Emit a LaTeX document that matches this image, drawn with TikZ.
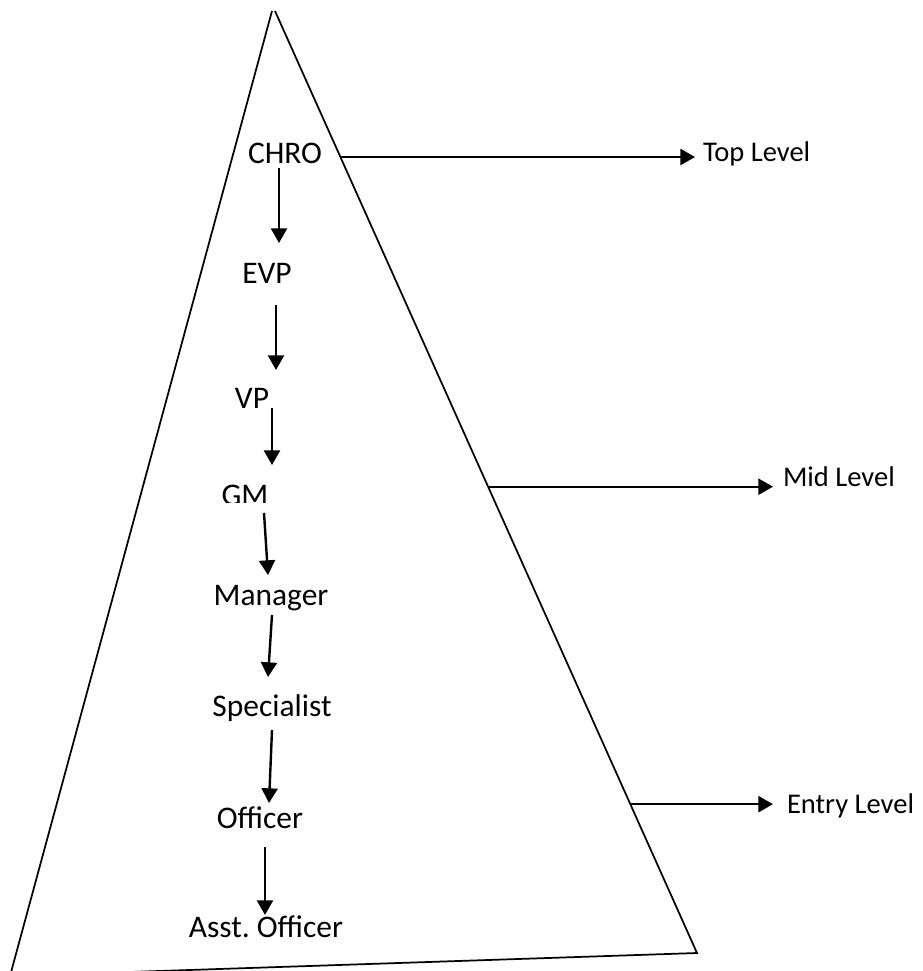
\documentclass[tikz,border=0pt]{standalone}
\usepackage{fontspec}
\setmainfont{Carlito}
\usetikzlibrary{arrows.meta}

\begin{document}
\begin{tikzpicture}[x=0.75pt,y=-0.75pt,
		every node/.style={inner sep=0pt,outer sep=0pt},
		post/.style={font=\fontsize{23.6}{28}\selectfont,anchor=base},
		tier/.style={font=\fontsize{21.4}{26}\selectfont,anchor=base west},
		edge/.style={line width=1.3pt,line join=miter},
		flow/.style={line width=1.8pt,-{Triangle[length=11pt,width=12pt]}}
		]
		\useasboundingbox (0,0) rectangle (922,971);
		% pyramid
		\coordinate (topL) at (272,11);
		\coordinate (topR) at (275,11);
		\coordinate (bl) at (10,976);
		\coordinate (br) at (697,953);
		\draw[edge] (topR) -- (br) -- (bl) -- (topL);
		\path (topR) -- (br) coordinate[pos=0.155] (e1) coordinate[pos=0.505] (e2) coordinate[pos=0.842] (e3);
		% posts
		\node[post] (chro) at (285,163) {CHRO};
		\node[post] (evp) at (267,283) {EVP};
		\node[post] (vp) at (252,408) {VP};
		\begin{scope}
			\clip (200,470) rectangle (300,502);
			\node[post] (gm) at (245,505) {GM};
		\end{scope}
		\node[post] (manager) at (271,605) {Manager};
		\node[post] (specialist) at (272,716) {Specialist};
		\node[post] (officer) at (260,828) {Officer};
		\node[post] (asst) at (266,937) {Asst.\ Officer};
		\draw[flow] ([shift={(-6,5)}]chro.base) -- ([shift={(12,-40)}]evp.base);
		\draw[flow] ([shift={(9,22)}]evp.base) -- ([shift={(24,-38)}]vp.base);
		\draw[flow] ([shift={(20,0)}]vp.base) -- ([shift={(27,-40)}]gm.base);
		\draw[flow] ([shift={(19,8)}]gm.base) -- ([shift={(-3,-30)}]manager.base);
		\draw[flow] ([shift={(1,10)}]manager.base) -- ([shift={(-4,-39)}]specialist.base);
		\draw[flow] ([shift={(0,14)}]specialist.base) -- ([shift={(9,-25)}]officer.base);
		\draw[flow] ([shift={(5,19)}]officer.base) -- ([shift={(-1,-22)}]asst.base);
		% levels
		\node[tier] (top) at (703,161) {Top Level};
		\node[tier] (mid) at (783,486) {Mid Level};
		\node[tier] (entry) at (787,813) {Entry Level};
		\draw[flow,shorten >=6pt] (e1) -- (e1 -| top.west);
		\draw[flow,shorten >=7.5pt] (e2) -- (e2 -| mid.west);
		\draw[flow,shorten >=10.5pt] (e3) -- (e3 -| entry.west);
	\end{tikzpicture}
\end{document}
